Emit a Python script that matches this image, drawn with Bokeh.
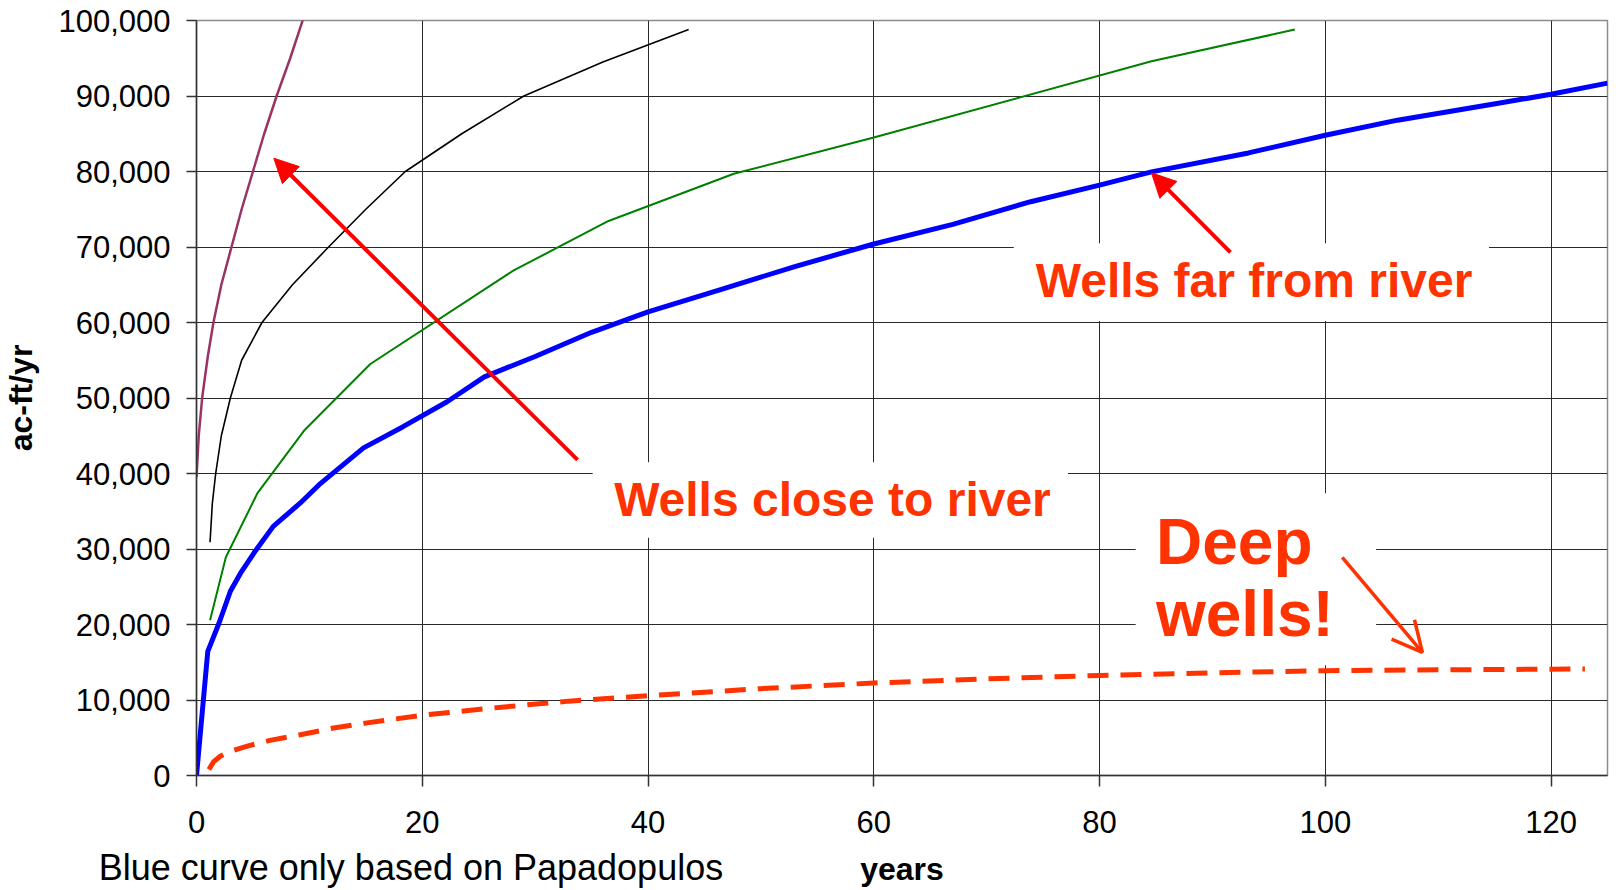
from bokeh.plotting import figure
from bokeh.models import (Range1d, FixedTicker, NumeralTickFormatter, Label,
                          Arrow, NormalHead, OpenHead, LinearAxis)
from bokeh.embed import file_html
from bokeh.resources import INLINE

# ---------------- data ----------------
x_ticks = [0, 20, 40, 60, 80, 100, 120]
y_ticks = [0, 10000, 20000, 30000, 40000, 50000, 60000, 70000, 80000, 90000, 100000]

purple_t = [0, 0.2, 0.5, 1.0, 1.5, 2.2, 3.1, 4.0, 5.0, 6.0, 7.1, 8.3, 9.6]
purple_v = [39500, 45000, 50000, 55500, 60000, 65000, 70000, 75000, 80000, 85000, 90000, 95000, 100900]

black_t = [1.2, 1.4, 1.7, 2.2, 3.0, 4.0, 5.8, 8.5, 11.7, 15.0, 18.5, 23.5, 29.0, 36.0, 43.6]
black_v = [30900, 36000, 40000, 45000, 50000, 55000, 60000, 65000, 70000, 75000, 80000, 85000, 90000, 94500, 98800]

green_t = [1.2, 2.6, 5.4, 9.6, 15.4, 28.1, 36.5, 47.6, 60.0, 84.6, 97.3]
green_v = [20550, 28900, 37400, 45800, 54500, 66900, 73450, 79700, 84500, 94600, 98800]

blue_t = [0, 1.0, 2.0, 3.0, 3.9, 5.1, 6.8, 9.2, 11.0, 14.8, 18.3, 22.2, 25.5, 30, 35, 40,
          46.5, 53, 60, 67, 73.9, 80, 84.6, 93.2, 100, 106.4, 115.2, 120, 125]
blue_v = [0, 16440, 20200, 24400, 26800, 29500, 33000, 36100, 38700, 43400, 46200, 49500,
          52800, 55500, 58700, 61400, 64400, 67400, 70400, 73000, 76000, 78200, 79950,
          82460, 84800, 86800, 89000, 90230, 91700]

deep_t = [1.1, 1.5, 2.1, 3.0, 4.5, 6.5, 9.2, 12, 15.1, 20, 27, 33, 40, 50, 60, 70, 80, 90,
          100, 110, 123]
deep_v = [800, 1800, 2550, 3200, 3900, 4650, 5400, 6250, 6970, 7980, 9050, 9850, 10580,
          11500, 12250, 12800, 13250, 13600, 13890, 14000, 14100]

# annotation texts
label_far = "Wells far from river"
label_close = "Wells close to river"
label_deep1 = "Deep"
label_deep2 = "wells!"
note_text = "Blue curve only based on Papadopulos"
note_tick = 19

# ---------------- figure ----------------
p = figure(width=1610, height=890, x_range=Range1d(0, 125), y_range=Range1d(0, 100000),
           output_backend="svg", toolbar_location=None,
           min_border_left=192, min_border_right=3, min_border_top=20, min_border_bottom=114)
p.background_fill_color = "white"
p.border_fill_color = "white"
p.outline_line_color = "#8c8c8c"
p.outline_line_width = 1.5

xt = FixedTicker(ticks=x_ticks)
yt = FixedTicker(ticks=y_ticks)
p.xaxis.ticker = xt
p.yaxis.ticker = yt
p.xgrid.ticker = xt
p.ygrid.ticker = yt
for g in (p.xgrid, p.ygrid):
    g.grid_line_color = "#2a2a2a"
    g.grid_line_width = 1

p.yaxis.formatter = NumeralTickFormatter(format="0,0")
for ax in (p.xaxis, p.yaxis):
    ax.axis_line_color = "#333333"
    ax.axis_line_width = 1.5
    ax.major_tick_line_color = "#333333"
    ax.major_tick_line_width = 1.5
    ax.major_tick_in = 0
    ax.minor_tick_line_color = None
    ax.major_label_text_font = "Liberation Sans"
    ax.major_label_text_font_size = "31px"
    ax.major_label_text_color = "black"
    ax.axis_label_text_font = "Liberation Sans"
    ax.axis_label_text_font_style = "bold"
    ax.axis_label_text_font_size = "32px"
    ax.axis_label_text_color = "black"
p.xaxis.major_tick_out = 11
p.yaxis.major_tick_out = 10
p.xaxis.major_label_standoff = 24
p.yaxis.major_label_standoff = 16
p.xaxis.axis_label = "years"
p.yaxis.axis_label = "ac-ft/yr"
p.xaxis.axis_label_standoff = 15
p.yaxis.axis_label_standoff = 16

# footnote below the chart, carried by a bare extra axis
note_axis = LinearAxis(ticker=FixedTicker(ticks=[note_tick]),
                       major_label_overrides={note_tick: note_text})
note_axis.axis_line_color = None
note_axis.major_tick_line_color = None
note_axis.minor_tick_line_color = None
note_axis.major_tick_out = 0
note_axis.major_tick_in = 0
note_axis.major_label_standoff = -43
note_axis.major_label_text_font = "Liberation Sans"
note_axis.major_label_text_font_size = "36px"
note_axis.major_label_text_color = "black"
p.add_layout(note_axis, "below")

# white boxes behind the annotation texts (hide the grid)
box_left = [72.4, 35.1, 83.2]
box_right = [114.5, 77.2, 104.5]
box_bottom = [60200, 31500, 14600]
box_top = [70500, 41500, 37400]
p.quad(left=box_left, right=box_right, bottom=box_bottom, top=box_top,
       fill_color="white", line_color=None)

# ---------------- series ----------------
p.line(purple_t, purple_v, line_color="#993366", line_width=2.5)
p.line(black_t, black_v, line_color="black", line_width=1.6)
p.line(green_t, green_v, line_color="#008000", line_width=2)
p.line(blue_t, blue_v, line_color="#0000FF", line_width=5, line_join="round")
p.line(deep_t, deep_v, line_color="#FF3300", line_width=5, line_dash="21 12")

# ---------------- annotations ----------------
arrow_close = [33.76, 41800, 6.85, 81760]
arrow_far = [91.6, 69290, 84.6, 79820]
arrow_deep = [101.5, 28880, 108.6, 16310]

p.add_layout(Arrow(end=NormalHead(size=24, fill_color="#FF0000", line_color="#FF0000"),
                   x_start=arrow_close[0], y_start=arrow_close[1],
                   x_end=arrow_close[2], y_end=arrow_close[3],
                   line_color="#FF0000", line_width=4))
p.add_layout(Arrow(end=NormalHead(size=24, fill_color="#FF0000", line_color="#FF0000"),
                   x_start=arrow_far[0], y_start=arrow_far[1],
                   x_end=arrow_far[2], y_end=arrow_far[3],
                   line_color="#FF0000", line_width=4))
p.add_layout(Arrow(end=OpenHead(size=30, line_color="#FF3300", line_width=3.5),
                   x_start=arrow_deep[0], y_start=arrow_deep[1],
                   x_end=arrow_deep[2], y_end=arrow_deep[3],
                   line_color="#FF3300", line_width=3.5))

def add_text(x, y, txt, size):
    p.add_layout(Label(x=x, y=y, text=txt, text_font="Liberation Sans",
                       text_font_style="bold", text_font_size=size,
                       text_color="#FF3300", text_baseline="alphabetic"))

add_text(74.35, 65570, label_far, "48px")
add_text(37.0, 36590, label_close, "48px")
add_text(85.0, 30930, label_deep1, "64px")
add_text(85.0, 21400, label_deep2, "64px")

open("out.html", "w").write(file_html(p, INLINE))
